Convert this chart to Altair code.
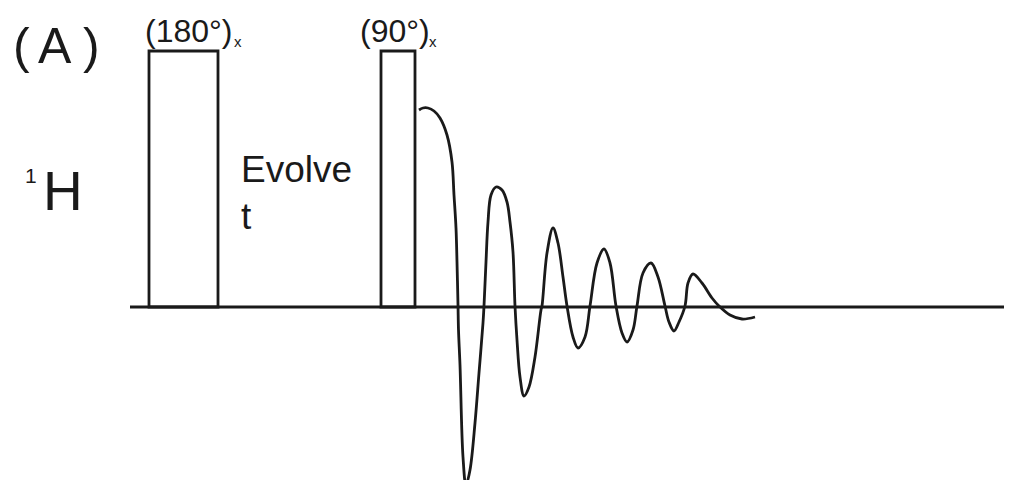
import altair as alt
import pandas as pd

# Baseline (time axis) and its level
base_start = [130]
base_end = [1012]

# Pulses: start, end, height (amplitude units above baseline)
pulse_names = ["180", "90"]
pulse_start = [149, 381]
pulse_end = [218, 415]
pulse_height = [256, 256]

# FID: time and image-row of the trace
fid_t = [419, 423, 428, 434, 440, 447, 452, 454, 456, 457, 458,
         458.5, 460, 463, 466, 470, 475, 479, 483, 484,
         486, 488, 491, 496, 502, 507, 510, 513, 515,
         517, 520, 524, 529, 535, 541,
         542, 547, 553, 558, 563, 567, 573, 578, 585, 590,
         597, 604, 610, 616, 622, 627, 633, 637,
         643, 651, 658, 665, 669, 674, 679, 685,
         688, 693, 702, 712, 719, 730, 742, 755]
fid_y = [110, 108, 108, 111, 118, 135, 162, 195, 228, 262, 305,
         330, 365, 457, 485, 470, 423, 373, 323, 306,
         262, 222, 195, 187, 190, 202, 222, 252, 306,
         340, 377, 396, 387, 357, 310,
         306, 253, 228, 243, 277, 306, 337, 348, 337, 306,
         263, 249, 263, 306, 333, 342, 330, 306,
         273, 263, 277, 306, 322, 331, 322, 306,
         283, 274, 283, 298, 306, 315, 319, 317]
BASE = 307
fid_amp = [BASE - v for v in fid_y]

# Labels
lab_text = ["(", "A", ")", "H", "(180°)", "(90°)", "Evolve", "t"]
lab_t = [13, 38, 83, 43, 145, 360, 241, 241]
lab_amp = [244, 244, 244, 97, 265, 265, 125, 78]
lab_size = [50, 50, 50, 55, 32, 32, 37, 37]

small_text = ["1", "x", "x"]
small_t = [25, 234, 429]
small_amp = [124, 260, 260]
small_size = [21, 15, 15]

W, H = 996, 472
xs = alt.Scale(domain=[8, 1004], nice=False, zero=False)
ys = alt.Scale(domain=[BASE - 480, BASE - 8], nice=False, zero=False)

base_df = pd.DataFrame({"t": base_start, "t2": base_end, "amp": [0]})
pulse_df = pd.DataFrame({"name": pulse_names, "t": pulse_start, "t2": pulse_end,
                         "amp": [0, 0], "amp2": pulse_height})
fid_df = pd.DataFrame({"t": fid_t, "amp": fid_amp, "order": list(range(len(fid_t)))})
lab_df = pd.DataFrame({"text": lab_text + small_text, "t": lab_t + small_t,
                       "amp": lab_amp + small_amp, "size": lab_size + small_size})

ink = "#1a1a1a"

baseline = alt.Chart(base_df).mark_rule(color=ink, strokeWidth=2.8).encode(
    x=alt.X("t:Q", scale=xs, axis=None), x2="t2:Q",
    y=alt.Y("amp:Q", scale=ys, axis=None))

pulses = alt.Chart(pulse_df).mark_rect(fill=None, stroke=ink, strokeWidth=2.8).encode(
    x=alt.X("t:Q", scale=xs, axis=None), x2="t2:Q",
    y=alt.Y("amp:Q", scale=ys, axis=None), y2="amp2:Q")

fid = alt.Chart(fid_df).mark_line(color=ink, strokeWidth=2.8, interpolate="catmull-rom").encode(
    x=alt.X("t:Q", scale=xs, axis=None),
    y=alt.Y("amp:Q", scale=ys, axis=None),
    order="order:Q")

labels = alt.Chart(lab_df).mark_text(
    align="left", baseline="alphabetic", color=ink,
    font="Liberation Sans, Arial, sans-serif").encode(
    x=alt.X("t:Q", scale=xs, axis=None), y=alt.Y("amp:Q", scale=ys, axis=None),
    text="text:N", size=alt.Size("size:Q", scale=None, legend=None))

chart = alt.layer(baseline, pulses, fid, labels).properties(
    width=W, height=H, padding=0, autosize=alt.AutoSizeParams(type="none"),
    background="white"
).configure_view(stroke=None)

chart.save("out.html", embed_options={"renderer": "svg", "actions": False})
